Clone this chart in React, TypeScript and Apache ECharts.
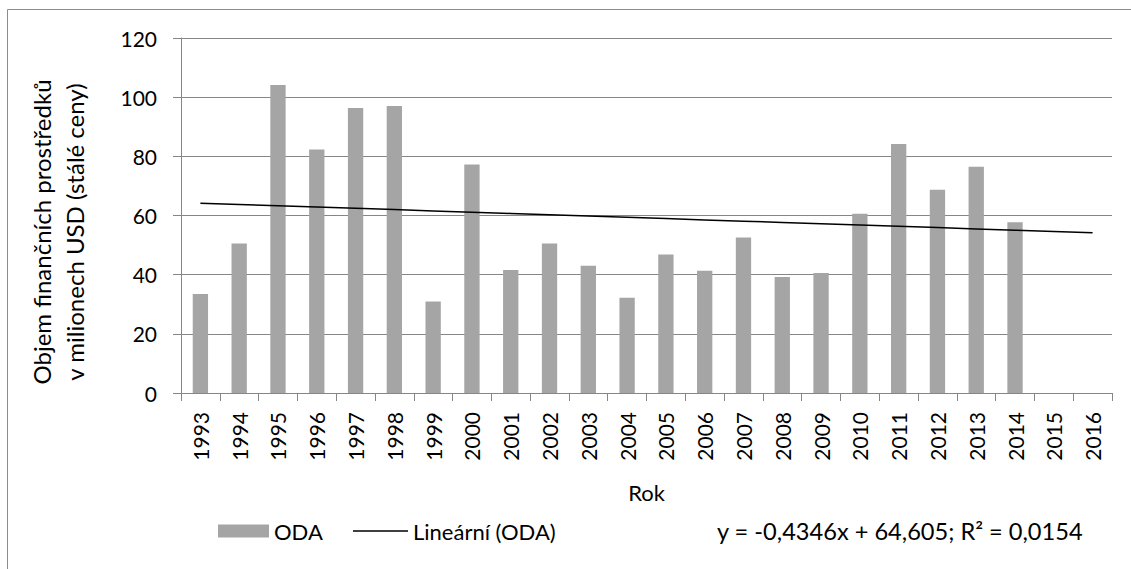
import React, { useEffect, useRef } from "react";
import * as echarts from "echarts";

const years = ["1993","1994","1995","1996","1997","1998","1999","2000","2001","2002","2003","2004","2005","2006","2007","2008","2009","2010","2011","2012","2013","2014","2015","2016"];
const odaValues: (number | null)[] = [33.5,50.5,104.1,82.3,96.3,97.0,30.9,77.2,41.6,50.5,43.0,32.2,46.8,41.3,52.6,39.2,40.6,60.6,84.2,68.7,76.5,57.7,null,null];
const trendSlope = -0.4346;
const trendIntercept = 64.605;
const yTicks = { min: 0, max: 120, interval: 20 };
const equationText = "y = -0,4346x + 64,605; R² = 0,0154";
const yTitle = "Objem finančních prostředků\nv milionech USD (stálé ceny)";
const FONT = "Lato";

export default function App() {
  const ref = useRef<HTMLDivElement>(null);
  useEffect(() => {
    if (!ref.current) return;
    const chart = echarts.init(ref.current, null, { renderer: "svg" });
    const trend = years.map((_, i) => +(trendIntercept + trendSlope * (i + 1)).toFixed(4));
    const legendText = { fontFamily: FONT, fontSize: 22, color: "#000" };
    chart.setOption({
      animation: false,
      textStyle: { fontFamily: FONT, color: "#000" },
      grid: { left: 181, top: 38, right: 19, bottom: 176, containLabel: false },
      legend: [
        {
          left: 213, top: 515, itemWidth: 51, itemHeight: 13, itemGap: 0,
          textStyle: legendText,
          data: [{ name: "ODA", icon: "rect" }],
        },
        {
          left: 348, top: 515, itemWidth: 55, itemHeight: 1.6, itemGap: 0,
          textStyle: legendText,
          data: [{ name: "Lineární (ODA)", icon: "rect", itemStyle: { color: "#000" } }],
        },
      ],
      xAxis: {
        type: "category", data: years, boundaryGap: true,
        axisLine: { lineStyle: { color: "#868686", width: 1 } },
        axisTick: { show: true, alignWithLabel: false, length: 8, lineStyle: { color: "#868686" } },
        axisLabel: { rotate: 90, interval: 0, fontSize: 21, color: "#000", fontFamily: FONT, margin: 19 },
        name: "Rok", nameLocation: "middle", nameGap: 88,
        nameTextStyle: { fontSize: 22, color: "#000", fontFamily: FONT },
      },
      yAxis: {
        type: "value", min: yTicks.min, max: yTicks.max, interval: yTicks.interval,
        axisLine: { show: true, lineStyle: { color: "#868686", width: 1 } },
        axisTick: { show: true, length: 8, lineStyle: { color: "#868686" } },
        splitLine: { lineStyle: { color: "#868686", width: 1 } },
        axisLabel: { fontSize: 21, color: "#000", fontFamily: FONT, margin: 24 },
      },
      series: [
        {
          name: "ODA", type: "bar", data: odaValues, barWidth: "39.5%",
          itemStyle: { color: "#a5a5a5" },
        },
        {
          name: "Lineární (ODA)", type: "line", data: trend, symbol: "none",
          lineStyle: { color: "#000", width: 1.5 }, itemStyle: { color: "#000" },
        },
      ],
      graphic: [
        { type: "rect", shape: { x: 7.5, y: 9.5, width: 1300, height: 1000 }, style: { fill: "none", stroke: "#8c8c8c", lineWidth: 1 }, silent: true },
        {
          type: "text", x: 717, y: 531,
          style: { text: equationText, fontSize: 23.6, fontFamily: FONT, fill: "#000", verticalAlign: "middle", align: "left" },
        },
        {
          type: "text", x: 58, y: 232, rotation: Math.PI / 2,
          style: { text: yTitle, fontSize: 24, lineHeight: 33, fontFamily: FONT, fill: "#000", align: "center", verticalAlign: "middle" },
        },
      ],
    });
    return () => chart.dispose();
  }, []);
  return <div ref={ref} style={{ position: "absolute", left: 0, top: 0, width: 1131, height: 569 }} />;
}
